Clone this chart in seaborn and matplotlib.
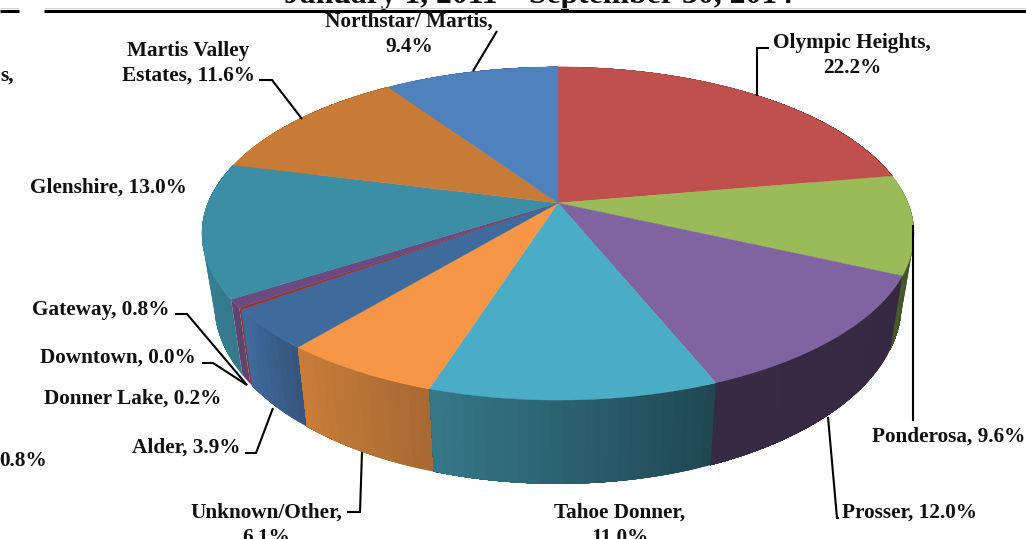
import numpy as np
import matplotlib
matplotlib.use("Agg")
import matplotlib.pyplot as plt
import seaborn as sns

# -----------------------------
# 1. Data
# -----------------------------
areas = ["Olympic Heights", "Ponderosa", "Prosser", "Tahoe Donner", "Unknown/Other", "Alder",
         "Donner Lake", "Downtown", "Gateway", "Glenshire", "Martis Valley Estates", "Northstar/ Martis"]
shares = [22.2, 9.6, 12.0, 11.0, 6.1, 3.9, 0.2, 0.0, 0.8, 13.0, 11.6, 9.4]
labels = ["Olympic Heights,\n22.2%", "Ponderosa, 9.6%", "Prosser, 12.0%", "Tahoe Donner,\n11.0%",
          "Unknown/Other,\n6.1%", "Alder, 3.9%", "Donner Lake, 0.2%", "Downtown, 0.0%", "Gateway, 0.8%",
          "Glenshire, 13.0%", "Martis Valley\nEstates, 11.6%", "Northstar/ Martis,\n9.4%"]
title = "January 1, 2011 \u2013 September 30, 2014"

# -----------------------------
# 2. Styles and layout (pixels)
# -----------------------------
top_colors = ["#C0504D", "#9BBB59", "#8064A2", "#4BACC6", "#F79646", "#3F6A9C",
              "#943634", "#943634", "#6A4A80", "#3C8EA5", "#C87B37", "#4F81BD"]
side_from = ["#7A302E", "#3F4D24", "#352840", "#1F4853", "#A86A33", "#36567F",
             "#8B3A3A", "#8B3A3A", "#5F4470", "#35798C", "#96592A", "#3A6090"]
side_to = ["#7A302E", "#465728", "#372A44", "#367888", "#C87C38", "#3F6A9C",
           "#8B3A3A", "#8B3A3A", "#5F4470", "#3A8496", "#96592A", "#3A6090"]

# (x, baseline, ha) of each label
label_pos = [(852, 48, "center"), (872, 442, "left"), (842, 518, "left"), (620, 518, "center"),
             (266, 518, "center"), (240, 453, "right"), (221, 404, "right"), (196, 363, "right"),
             (170, 315, "right"), (187, 193, "right"), (188, 56, "center"), (409, 27, "center")]
line_gap = 25

leaders = [[(757, 96), (757, 48), (769, 48)],
           [(913, 225), (913, 421)],
           [(828, 417), (837, 518), (839, 518)],
           [(362, 452), (360, 512), (347, 512)],
           [(273, 408), (256, 453), (245, 453)],
           [(247, 385), (187, 314), (175, 314)],
           [(247, 385), (213, 363), (202, 363)],
           [(302, 119), (272, 80), (259, 80)],
           [(473, 71), (497, 31)]]


def project(theta, bottom=False):
    # perspective view of a disc, theta runs clockwise from 12 o'clock
    u, v = np.sin(theta), -np.cos(theta)
    w = 1 - 0.183 * v
    if bottom:
        return 558 + 350 * 0.965 * u / w, 203 + 68 + 161 * 1.08 * v / w
    return 558 + 350 * u / w, 203 + 161 * v / w


# -----------------------------
# 3. Plot
# -----------------------------
sns.set_theme(style="white")
plt.rcParams["font.family"] = ["Liberation Serif", "DejaVu Serif"]

fig = plt.figure(figsize=(10.26, 5.39), dpi=100)
ax = fig.add_axes([0, 0, 1, 1])
ax.set_xlim(0, 1026)
ax.set_ylim(539, 0)
ax.axis("off")

edges = np.radians(np.concatenate([[0], np.cumsum(shares)]) / sum(shares) * 360)

# side wall, back strips first; each wedge goes over the one before it at the front right
for i in np.argsort([-np.cos((edges[k] + edges[k + 1]) / 2) for k in range(len(shares))]):
    if shares[i] == 0:
        continue
    n = max(int(np.degrees(edges[i + 1] - edges[i]) / 1.5), 1)
    ramp = sns.blend_palette([side_from[i], side_to[i]], n)
    t = np.linspace(edges[i], edges[i + 1], n + 1)
    for j in range(n):
        # strip runs on to the wedge end, the next one paints over it, so no seams show
        arc = np.linspace(t[j], edges[i + 1], 60)
        xt, yt = project(arc)
        xb, yb = project(arc[::-1], bottom=True)
        ax.fill(np.r_[xt, xb], np.r_[yt, yb], color=ramp[j], lw=0, zorder=2)

# top face
for i in range(len(shares)):
    if shares[i] == 0:
        continue
    t = np.linspace(edges[i], edges[i + 1], 200)
    x, y = project(t)
    ax.fill(np.r_[558, x], np.r_[203, y], color=top_colors[i], lw=0.3, zorder=3)

for pts in leaders:
    xs, ys = zip(*pts)
    ax.plot(xs, ys, color="black", lw=1.5, zorder=1.5 if pts[0][1] > 330 and pts[0][0] != 913 else 4,
            solid_capstyle="butt", solid_joinstyle="miter")

# labels
for txt, (x, y, ha) in zip(labels, label_pos):
    for k, line in enumerate(txt.split("\n")):
        ax.text(x, y + k * line_gap, line, ha=ha, va="baseline", fontsize=15.3, fontweight="bold",
                color="#111111", zorder=5)

# pieces of labels cut by the crop on the left
ax.text(14, 81, "s,", ha="right", va="baseline", fontsize=15.3, fontweight="bold", color="#111111")
ax.text(47, 466, "0.8%", ha="right", va="baseline", fontsize=15.3, fontweight="bold", color="#111111")

# header rule and title
ax.text(538, 3, title, ha="center", va="baseline", fontsize=22.8, fontweight="bold", color="#111111")
for x0, x1 in [(0, 19), (44, 1026)]:
    ax.plot([x0, x1], [10.5, 10.5], color="black", lw=2.2, solid_capstyle="butt", zorder=4)
    ax.plot([x0, x1], [8.2, 8.2], color="#cccccc", lw=0.6, solid_capstyle="butt", zorder=4)

fig.savefig("out.png", dpi=100)
